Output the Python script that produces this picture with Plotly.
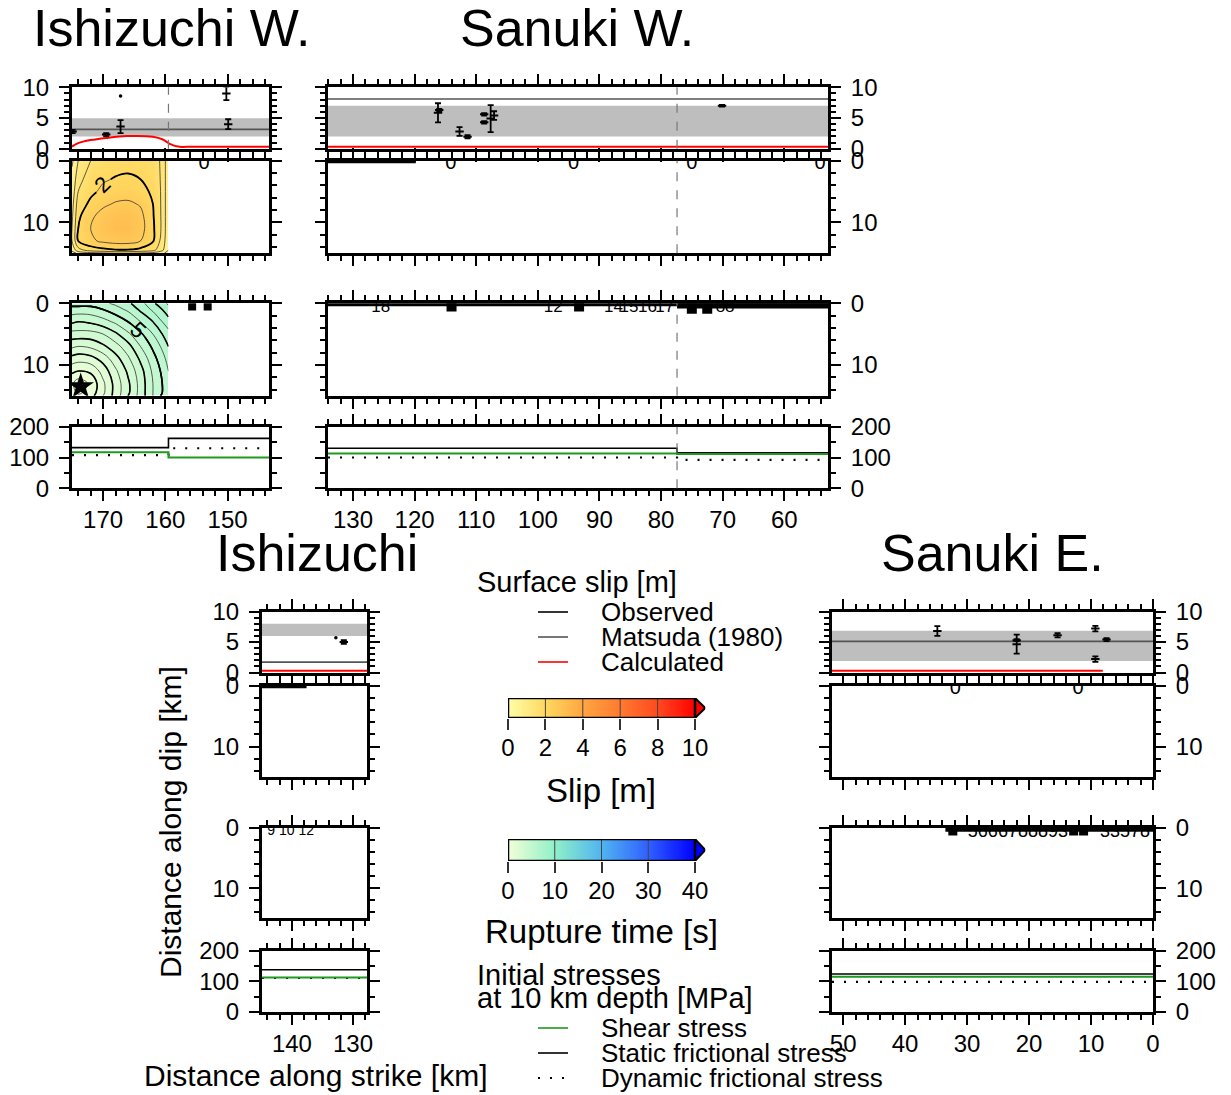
import numpy as np
import plotly.graph_objects as go

W, H = 1231, 1095
FONT = "Liberation Sans, Arial, Helvetica, sans-serif"

# ---------------- data ----------------
# along-strike ranges of each segment panel (km), left edge -> right edge
iw_xrange = [175.0, 143.3]
sw_xrange = [134.05, 52.9]
is_xrange = [144.9, 127.7]
se_xrange = [51.8, 0.0]

iw_boundary = 159.5
sw_boundary = 77.4

# Matsuda (1980) band [low, high] and line (m)
iw_band, iw_matsuda = [2.0, 4.95], 3.15
sw_band, sw_matsuda = [2.0, 7.0], 8.1
is_band, is_matsuda = [6.0, 8.0], 1.7
se_band, se_matsuda = [1.9, 6.85], 5.1

# Observed surface slip (m) with error
iw_obs_x = [174.9, 169.5, 167.2, 150.2, 149.9]
iw_obs_y = [2.8, 2.3, 3.6, 9.0, 4.0]
iw_obs_err = [0.25, 0.25, 1.05, 1.1, 0.8]
iw_dot_x, iw_dot_y = [167.2], [8.6]

sw_obs_x = [116.2, 116.0, 112.7, 111.4, 108.7, 108.7, 107.65, 107.1, 70.1]
sw_obs_y = [5.85, 6.3, 2.8, 1.95, 5.6, 4.3, 4.9, 5.4, 7.0]
sw_obs_err = [1.55, 0.2, 0.7, 0.25, 0.2, 0.2, 2.2, 0.7, 0.15]

is_obs_x, is_obs_y, is_obs_err = [131.5], [5.0], [0.3]
is_dot_x, is_dot_y = [132.8], [5.7]

se_obs_x = [34.8, 22.0, 22.0, 15.4, 9.3, 7.5, 9.3]
se_obs_y = [6.8, 4.65, 5.3, 6.1, 7.2, 5.4, 2.2]
se_obs_err = [0.8, 1.55, 0.15, 0.35, 0.45, 0.25, 0.45]

# Calculated surface slip (m)
iw_calc_x = [175.0, 174.0, 172.0, 169.5, 166.2, 162.0, 160.4, 159.3, 157.7, 156.6, 150.0, 143.3]
iw_calc_y = [0.35, 0.9, 1.4, 1.75, 2.05, 1.95, 1.5, 0.8, 0.3, 0.3, 0.3, 0.3]
sw_calc_x, sw_calc_y = [134.05, 52.9], [0.3, 0.3]
is_calc_x, is_calc_y = [144.9, 127.7], [0.3, 0.3]
se_calc_x, se_calc_y = [51.8, 8.1], [0.3, 0.3]

# Ishizuchi W. slip / rupture-time grid
iw_grid_x = [175.0, 174.0, 172.0, 170.0, 168.0, 166.0, 164.0, 162.0, 160.5, 159.5]
iw_grid_depth = [0, 1, 3, 5, 7, 9, 11, 13, 14.5, 15]
iw_slip = [
    [0.4, 1.0, 1.5, 1.75, 1.85, 1.9, 1.85, 1.75, 1.4, 0.6],
    [0.5, 1.1, 1.6, 1.8, 1.9, 1.93, 1.88, 1.78, 1.4, 0.6],
    [0.6, 1.3, 1.8, 1.95, 2.03, 2.06, 2.0, 1.85, 1.4, 0.6],
    [0.7, 1.5, 1.9, 2.1, 2.25, 2.25, 2.1, 1.95, 1.4, 0.6],
    [0.8, 1.75, 2.1, 2.4, 2.55, 2.6, 2.45, 2.0, 1.4, 0.6],
    [0.9, 1.9, 2.4, 2.7, 2.9, 2.9, 2.65, 2.05, 1.4, 0.6],
    [1.0, 2.0, 2.5, 2.8, 3.0, 3.0, 2.7, 2.1, 1.4, 0.6],
    [1.0, 2.0, 2.4, 2.6, 2.7, 2.7, 2.5, 2.05, 1.3, 0.6],
    [0.6, 1.3, 1.7, 1.85, 1.95, 1.95, 1.85, 1.65, 1.1, 0.5],
    [0.3, 0.6, 0.8, 0.9, 1.0, 1.0, 0.9, 0.8, 0.6, 0.3],
]
iw_rupture = [
    [5.2, 5.2, 5.2, 5.4, 5.6, 5.9, 6.3, 6.9, 7.3, 7.6],
    [4.8, 4.8, 4.8, 5.0, 5.3, 5.6, 6.1, 6.6, 7.0, 7.3],
    [4.1, 4.0, 4.1, 4.3, 4.6, 5.0, 5.5, 6.0, 6.5, 6.8],
    [3.3, 3.3, 3.3, 3.5, 3.9, 4.4, 4.9, 5.5, 6.0, 6.3],
    [2.6, 2.5, 2.6, 2.9, 3.3, 3.8, 4.5, 5.1, 5.6, 6.0],
    [1.8, 1.7, 1.8, 2.2, 2.8, 3.4, 4.1, 4.8, 5.3, 5.7],
    [1.1, 1.0, 1.1, 1.7, 2.4, 3.1, 3.8, 4.6, 5.1, 5.5],
    [0.6, 0.2, 0.6, 1.4, 2.2, 2.9, 3.7, 4.5, 5.0, 5.4],
    [0.7, 0.4, 0.7, 1.4, 2.2, 2.9, 3.7, 4.5, 5.0, 5.4],
    [0.8, 0.6, 0.8, 1.5, 2.2, 3.0, 3.7, 4.5, 5.1, 5.5],
]
iw_hypo_x, iw_hypo_depth = [173.6], [13.5]

# Near-surface contour remnants
iw_slip_zero_x = [153.8]
sw_slip_zero_x = [114.1, 94.2, 75.0, 54.2]
se_slip_zero_x = [31.9, 12.1]
sw_slip_top_x = [134.05, 119.8]
is_slip_top_x = [144.9, 137.6]

sw_rt_label_x = [125.5, 97.5, 87.7, 85.2, 82.2, 79.4, 69.6]
sw_rt_labels = ["18", "12", "14", "15", "16", "17", "88"]
sw_rt_blob_x = [114.0, 93.3, 75.0, 72.5]
se_rt_label_x = [21.8, 4.5]
se_rt_labels = ["5666788893", "33578"]
se_rt_blob_x = [32.3, 12.8, 11.2]
se_rt_top_x = [33.5, 0.0]
is_rt_label_x = [140.2]
is_rt_labels = ["9 10 12"]
iw_rt_blob_x = [155.7, 153.2]

# Initial stresses at 10 km depth (MPa), step values between edges
iw_stress_edges = [175.0, 159.5, 143.3]
iw_static, iw_shear, iw_dynamic = [132, 162], [117, 100], [108, 130]
sw_stress_edges = [134.05, 77.4, 52.9]
sw_static, sw_shear, sw_dynamic = [130, 115], [113, 111], [100, 92]
is_stress_edges = [144.9, 127.7]
is_static, is_shear, is_dynamic = [138], [113], [111]
se_stress_edges = [51.8, 0.0]
se_static, se_shear, se_dynamic = [124], [115], [98]

slip_cb_ticks = [0, 2, 4, 6, 8, 10]
rupt_cb_ticks = [0, 10, 20, 30, 40]

# ---------------- styles ----------------
SLIP_CS = [[0, "#ffffa8"], [0.2, "#ffd860"], [0.4, "#ffa640"], [0.6, "#ff7a30"], [0.8, "#ff4a20"], [1, "#ff0000"]]
RUPT_CS = [[0, "#f2ffd8"], [0.25, "#90f0c8"], [0.5, "#50b4f0"], [0.75, "#3060ff"], [1, "#0000ff"]]
GREEN = "#1f9a1f"
BAND = "#bebebe"
MATS = "#555555"
DOT = "2px,10px"


def px(x):
    return x / W


def py(y):
    return 1 - y / H


fig = go.Figure()
layout = dict(template="none", width=W, height=H, autosize=False, margin=dict(l=0, r=0, t=0, b=0, pad=0),
              paper_bgcolor="white", plot_bgcolor="white", showlegend=False,
              font=dict(family=FONT, color="black", size=24))
shapes, annotations = [], []

cols = {
    "IW": (72.0, 269.3, iw_xrange, "left"),
    "SW": (328.0, 828.0, sw_xrange, "right"),
    "IS": (262.0, 367.0, is_xrange, "left"),
    "SE": (832.0, 1153.0, se_xrange, "right"),
}
top_rows = {"surf": (87.3, 148.7), "slip": (160.7, 253.3), "rupt": (303.3, 395.7), "stress": (426.7, 488.3)}
bot_rows = {"surf": (611.5, 672.5), "slip": (685.8, 777.0), "rupt": (828.0, 918.3), "stress": (951.0, 1011.7)}
row_cfg = {
    "surf": dict(range=[0, 10], tickvals=[0, 5, 10], minor=1),
    "slip": dict(range=[15, 0], tickvals=[0, 10], minor=2),
    "rupt": dict(range=[15, 0], tickvals=[0, 10], minor=2),
    "stress": dict(range=[0, 200], tickvals=[0, 100, 200], minor=50),
}

AX = {}
n = 0
for c in ["IW", "SW", "IS", "SE"]:
    x0, x1, xr, side = cols[c]
    rows = top_rows if c in ("IW", "SW") else bot_rows
    for r in ["surf", "slip", "rupt", "stress"]:
        n += 1
        y0, y1 = rows[r]
        xn = "x" if n == 1 else f"x{n}"
        yn = "y" if n == 1 else f"y{n}"
        AX[(c, r)] = (xn, yn)
        cfg = row_cfg[r]
        layout["xaxis" if n == 1 else f"xaxis{n}"] = dict(
            domain=[px(x0), px(x1)], range=xr, anchor=yn, automargin=False,
            showline=True, linewidth=3, linecolor="black", mirror="allticks",
            ticks="outside", ticklen=10, tickwidth=2, tickcolor="black",
            tick0=0, dtick=10,
            minor=dict(dtick=2, tick0=0, ticks="outside", ticklen=5, tickwidth=1.5, tickcolor="black", showgrid=False),
            showgrid=False, zeroline=False, showticklabels=(r == "stress"),
            tickfont=dict(size=24), ticklabelstandoff=-2,
        )
        layout["yaxis" if n == 1 else f"yaxis{n}"] = dict(
            domain=[py(y1), py(y0)], range=cfg["range"], anchor=xn, side=side, automargin=False,
            showline=True, linewidth=3, linecolor="black", mirror="allticks",
            ticks="outside", ticklen=10, tickwidth=2, tickcolor="black",
            tickvals=cfg["tickvals"],
            minor=dict(dtick=cfg["minor"], tick0=0, ticks="outside", ticklen=5, tickwidth=1.5, tickcolor="black", showgrid=False),
            showgrid=False, zeroline=False, tickfont=dict(size=24), ticklabelstandoff=5,
        )

seg = {
    "IW": dict(xr=iw_xrange, band=iw_band, mats=iw_matsuda, ox=iw_obs_x, oy=iw_obs_y, oe=iw_obs_err,
               cx=iw_calc_x, cy=iw_calc_y, se=iw_stress_edges, st=iw_static, sh=iw_shear, dy=iw_dynamic),
    "SW": dict(xr=sw_xrange, band=sw_band, mats=sw_matsuda, ox=sw_obs_x, oy=sw_obs_y, oe=sw_obs_err,
               cx=sw_calc_x, cy=sw_calc_y, se=sw_stress_edges, st=sw_static, sh=sw_shear, dy=sw_dynamic),
    "IS": dict(xr=is_xrange, band=is_band, mats=is_matsuda, ox=is_obs_x, oy=is_obs_y, oe=is_obs_err,
               cx=is_calc_x, cy=is_calc_y, se=is_stress_edges, st=is_static, sh=is_shear, dy=is_dynamic),
    "SE": dict(xr=se_xrange, band=se_band, mats=se_matsuda, ox=se_obs_x, oy=se_obs_y, oe=se_obs_err,
               cx=se_calc_x, cy=se_calc_y, se=se_stress_edges, st=se_static, sh=se_shear, dy=se_dynamic),
}


def step_y(vals):
    return list(vals) + [vals[-1]]


for c, d in seg.items():
    xs, ys = AX[(c, "surf")]
    shapes.append(dict(type="rect", xref=f"{xs} domain", yref=ys, x0=0, x1=1,
                       y0=d["band"][0], y1=d["band"][1], fillcolor=BAND, line=dict(width=0), layer="below"))
    fig.add_trace(go.Scatter(x=d["xr"], y=[d["mats"], d["mats"]], mode="lines",
                             line=dict(color=MATS, width=1.6), xaxis=xs, yaxis=ys))
    fig.add_trace(go.Scatter(x=d["cx"], y=d["cy"], mode="lines", line=dict(color="red", width=2, shape="spline"),
                             xaxis=xs, yaxis=ys))
    fig.add_trace(go.Scatter(x=d["ox"], y=d["oy"], mode="markers",
                             marker=dict(symbol="line-ew", size=6, line=dict(width=2, color="black"), color="black"),
                             error_y=dict(type="data", array=d["oe"], color="black", thickness=1.8, width=3),
                             xaxis=xs, yaxis=ys))
    # stresses
    xs2, ys2 = AX[(c, "stress")]
    fig.add_trace(go.Scatter(x=d["se"], y=step_y(d["st"]), mode="lines", line=dict(color="black", width=1.6, shape="hv"),
                             xaxis=xs2, yaxis=ys2))
    fig.add_trace(go.Scatter(x=d["se"], y=step_y(d["dy"]), mode="lines", line=dict(color="black", width=2.2, shape="hv", dash=DOT),
                             xaxis=xs2, yaxis=ys2))
    fig.add_trace(go.Scatter(x=d["se"], y=step_y(d["sh"]), mode="lines", line=dict(color=GREEN, width=2, shape="hv"),
                             xaxis=xs2, yaxis=ys2))

# dots without error bars
for c, dx, dy in [("IW", iw_dot_x, iw_dot_y), ("IS", is_dot_x, is_dot_y)]:
    xs, ys = AX[(c, "surf")]
    fig.add_trace(go.Scatter(x=dx, y=dy, mode="markers", marker=dict(size=3.5, color="black"), xaxis=xs, yaxis=ys))

# dashed segment boundaries
shapes.append(dict(type="line", xref=AX[("IW", "surf")][0], yref=f"{AX[('IW', 'surf')][1]} domain",
                   x0=iw_boundary, x1=iw_boundary, y0=0, y1=1, line=dict(color="#777", width=1.2, dash="dash")))
for r in ["surf", "slip", "rupt", "stress"]:
    xs, ys = AX[("SW", r)]
    shapes.append(dict(type="line", xref=xs, yref=f"{ys} domain", x0=sw_boundary, x1=sw_boundary, y0=0, y1=1,
                       line=dict(color="#777", width=1.2, dash="dash")))

# Ishizuchi W. slip distribution
xs, ys = AX[("IW", "slip")]
fig.add_trace(go.Contour(x=iw_grid_x, y=iw_grid_depth, z=iw_slip, colorscale=SLIP_CS, zmin=0, zmax=10,
                         showscale=False, contours=dict(coloring="heatmap", start=0.5, end=3, size=0.5),
                         line=dict(width=0.8, color="#333"), xaxis=xs, yaxis=ys))
fig.add_trace(go.Contour(x=iw_grid_x, y=iw_grid_depth, z=iw_slip, showscale=False,
                         contours=dict(coloring="none", start=2, end=2, size=1, showlabels=True,
                                       labelfont=dict(size=22, color="black")),
                         line=dict(width=1.8, color="black"), xaxis=xs, yaxis=ys))
fig.add_trace(go.Scatter(x=iw_slip_zero_x, y=[0.6] * len(iw_slip_zero_x), mode="text", text=["0"] * len(iw_slip_zero_x),
                         textfont=dict(size=20), xaxis=xs, yaxis=ys))

# Ishizuchi W. rupture time
xs, ys = AX[("IW", "rupt")]
fig.add_trace(go.Contour(x=iw_grid_x, y=iw_grid_depth, z=iw_rupture, colorscale=RUPT_CS, zmin=0, zmax=40,
                         showscale=False, contours=dict(coloring="heatmap", start=0.5, end=8, size=0.5),
                         line=dict(width=0.8, color="#333"), xaxis=xs, yaxis=ys))
fig.add_trace(go.Contour(x=iw_grid_x, y=iw_grid_depth, z=iw_rupture, showscale=False,
                         contours=dict(coloring="none", start=1, end=8, size=1),
                         line=dict(width=1.6, color="black"), xaxis=xs, yaxis=ys))
fig.add_trace(go.Contour(x=iw_grid_x, y=iw_grid_depth, z=iw_rupture, showscale=False,
                         contours=dict(coloring="none", start=5, end=5, size=1, showlabels=True,
                                       labelfont=dict(size=22, color="black")),
                         line=dict(width=1.6, color="black"), xaxis=xs, yaxis=ys))
fig.add_trace(go.Scatter(x=iw_hypo_x, y=iw_hypo_depth, mode="markers",
                         marker=dict(symbol="star", size=20, color="black"), xaxis=xs, yaxis=ys))
fig.add_trace(go.Scatter(x=iw_rt_blob_x, y=[0.5] * len(iw_rt_blob_x), mode="markers",
                         marker=dict(symbol="square", size=8, color="black"), xaxis=xs, yaxis=ys))

# Sanuki W. slip remnants
xs, ys = AX[("SW", "slip")]
fig.add_trace(go.Scatter(x=sw_slip_top_x, y=[0.15, 0.15], mode="lines", line=dict(color="black", width=3), xaxis=xs, yaxis=ys))
fig.add_trace(go.Scatter(x=sw_slip_zero_x, y=[0.5] * len(sw_slip_zero_x), mode="text", text=["0"] * len(sw_slip_zero_x),
                         textfont=dict(size=20), xaxis=xs, yaxis=ys))
# Ishizuchi slip remnants
xs, ys = AX[("IS", "slip")]
fig.add_trace(go.Scatter(x=is_slip_top_x, y=[0.15, 0.15], mode="lines", line=dict(color="black", width=3), xaxis=xs, yaxis=ys))
# Sanuki E. slip remnants
xs, ys = AX[("SE", "slip")]
fig.add_trace(go.Scatter(x=se_slip_zero_x, y=[0.5] * len(se_slip_zero_x), mode="text", text=["0"] * len(se_slip_zero_x),
                         textfont=dict(size=20), xaxis=xs, yaxis=ys))

# Rupture-time remnants along the surface
xs, ys = AX[("SW", "rupt")]
fig.add_trace(go.Scatter(x=sw_xrange, y=[0.15, 0.15], mode="lines", line=dict(color="black", width=4), xaxis=xs, yaxis=ys))
fig.add_trace(go.Scatter(x=[sw_boundary, sw_xrange[1]], y=[0.35, 0.35], mode="lines", line=dict(color="black", width=6),
                         xaxis=xs, yaxis=ys))
fig.add_trace(go.Scatter(x=sw_rt_blob_x, y=[0.5, 0.5, 0.9, 0.9], mode="markers",
                         marker=dict(symbol="square", size=10, color="black"), xaxis=xs, yaxis=ys))
fig.add_trace(go.Scatter(x=sw_rt_label_x, y=[0.8] * len(sw_rt_label_x), mode="text", text=sw_rt_labels,
                         textfont=dict(size=17), xaxis=xs, yaxis=ys))

xs, ys = AX[("SE", "rupt")]
fig.add_trace(go.Scatter(x=se_rt_top_x, y=[0.2, 0.2], mode="lines", line=dict(color="black", width=5), xaxis=xs, yaxis=ys))
fig.add_trace(go.Scatter(x=se_rt_blob_x, y=[0.5] * len(se_rt_blob_x), mode="markers",
                         marker=dict(symbol="square", size=9, color="black"), xaxis=xs, yaxis=ys))
fig.add_trace(go.Scatter(x=se_rt_label_x, y=[0.8] * len(se_rt_label_x), mode="text", text=se_rt_labels,
                         textfont=dict(size=18), xaxis=xs, yaxis=ys))

xs, ys = AX[("IS", "rupt")]
fig.add_trace(go.Scatter(x=is_rt_label_x, y=[0.6], mode="text", text=is_rt_labels,
                         textfont=dict(size=14), xaxis=xs, yaxis=ys))

# ---------------- colour bars ----------------
def add_cbar(n, ticks, cs, left, top, bottom, tipcolor):
    xn, yn = f"x{n}", f"y{n}"
    vmax = ticks[-1]
    ext = vmax * 0.055
    ramp = np.linspace(0, vmax, 201)
    layout[f"xaxis{n}"] = dict(domain=[px(left), px(left + 187 * (1 + 0.055))], range=[0, vmax + ext], anchor=yn,
                               automargin=False, showline=False, showgrid=False, zeroline=False, tickvals=ticks,
                               ticks="outside", ticklen=11, tickwidth=1.5, tickcolor="#333",
                               tickfont=dict(size=24), ticklabelstandoff=-3)
    layout[f"yaxis{n}"] = dict(domain=[py(bottom), py(top)], range=[0, 1], anchor=xn, visible=False, automargin=False)
    fig.add_trace(go.Heatmap(x=ramp, y=[0, 1], z=[ramp, ramp], colorscale=cs, zmin=0, zmax=vmax,
                             showscale=False, xaxis=xn, yaxis=yn, hoverinfo="skip"))
    for t in ticks[1:-1]:
        shapes.append(dict(type="line", xref=xn, yref=yn, x0=t, x1=t, y0=0, y1=1, line=dict(color="#444", width=1)))
    shapes.append(dict(type="path", xref=xn, yref=yn,
                       path=f"M {vmax},0 L {vmax + ext},0.5 L {vmax},1 Z",
                       fillcolor=tipcolor, line=dict(color="black", width=2)))
    shapes.append(dict(type="rect", xref=xn, yref=yn, x0=0, x1=vmax, y0=0, y1=1,
                       line=dict(color="black", width=2.5)))


add_cbar(17, slip_cb_ticks, SLIP_CS, 508, 698, 718, "#ff0000")
add_cbar(18, rupt_cb_ticks, RUPT_CS, 508, 839, 861, "#0000ff")

# ---------------- text ----------------
def txt(s, x, y, size, xanchor="left", angle=0):
    annotations.append(dict(text=s, x=px(x), y=py(y), xref="paper", yref="paper", showarrow=False,
                            xanchor=xanchor, yanchor="middle", textangle=angle,
                            font=dict(size=size, family=FONT, color="black")))


txt("Ishizuchi W.", 31, 28, 52)
txt("Sanuki W.", 458, 28, 52)
txt("Ishizuchi", 214, 553, 52)
txt("Sanuki E.", 879, 553, 52)

txt("Surface slip [m]", 475, 582, 29)
txt("Observed", 599, 612, 26)
txt("Matsuda (1980)", 599, 637, 26)
txt("Calculated", 599, 662, 26)
txt("Slip [m]", 601, 790, 33, "center")
txt("Rupture time [s]", 601, 931, 33, "center")
txt("Initial stresses", 475, 975, 29)
txt("at 10 km depth [MPa]", 475, 998, 29)
txt("Shear stress", 599, 1028, 26)
txt("Static frictional stress", 599, 1053, 26)
txt("Dynamic frictional stress", 599, 1078, 26)
txt("Distance along dip [km]", 170, 822, 30, "center", -90)
txt("Distance along strike [km]", 315, 1075, 30, "center")

for yy, col, dash in [(612, "black", "solid"), (637, MATS, "solid"), (662, "red", "solid"),
                      (1028, GREEN, "solid"), (1053, "black", "solid"), (1078, "black", DOT)]:
    shapes.append(dict(type="line", xref="paper", yref="paper", x0=px(538), x1=px(568), y0=py(yy), y1=py(yy),
                       line=dict(color=col, width=2 if dash == DOT else 1.6, dash=dash)))

layout["shapes"] = shapes
layout["annotations"] = annotations
fig.update_layout(**layout)
fig.write_html("out.html")
